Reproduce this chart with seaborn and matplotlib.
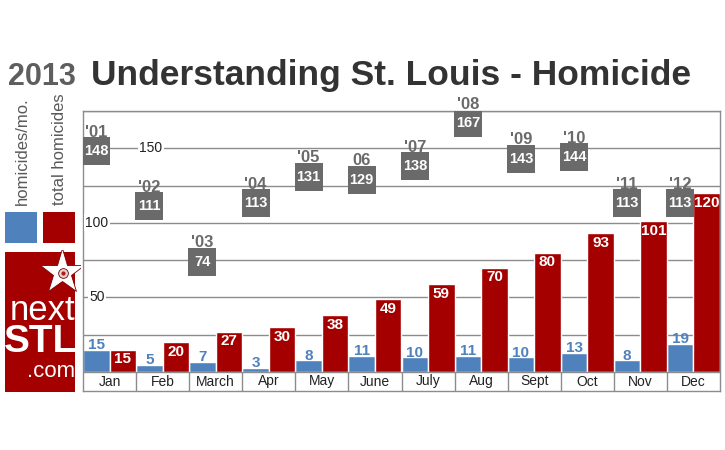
import numpy as np
import pandas as pd
import matplotlib
matplotlib.use("Agg")
from matplotlib import pyplot as plt
from matplotlib.patches import Rectangle
import seaborn as sns

months = ["Jan", "Feb", "March", "Apr", "May", "June", "July", "Aug", "Sept", "Oct", "Nov", "Dec"]
per_month = [15, 5, 7, 3, 8, 11, 10, 11, 10, 13, 8, 19]
running_total = [15, 20, 27, 30, 38, 49, 59, 70, 80, 93, 101, 120]
prev_years = ["'01", "'02", "'03", "'04", "'05", "06", "'07", "'08", "'09", "'10", "'11", "'12"]
prev_totals = [148, 111, 74, 113, 131, 129, 138, 167, 143, 144, 113, 113]
series_names = ["homicides/mo.", "total homicides"]
y_labels = [50, 100, 150]

BLUE = "#4F81BD"
RED = "#A50000"
GREY = "#6A6A6A"
LINE = "#8C8C8C"

df = pd.DataFrame({
    "month": months * 2,
    "count": per_month + running_total,
    "series": [series_names[0]] * len(months) + [series_names[1]] * len(months),
})

sns.set_style("white")
plt.rcParams["font.family"] = ["Liberation Sans", "DejaVu Sans"]

W, H = 725, 450
fig = plt.figure(figsize=(7.25, 4.5), dpi=100)

# main chart, label row lives inside the axes below zero
ax = fig.add_axes([83 / W, 1 - 391 / H, 637 / W, 280 / H])
sns.barplot(data=df, x="month", y="count", hue="series", order=months,
            palette=[BLUE, RED], width=1.0, saturation=1, legend=False, ax=ax)
ymin = -19 * 175 / 261
ax.set_ylim(ymin, 175)
ax.set_xlim(-0.5, len(months) - 0.5)
ax.set_yticks(range(25, 176, 25))
ax.set_yticklabels([])
ax.set_xticks([])
ax.set_xlabel("")
ax.set_ylabel("")
ax.yaxis.grid(True, color=LINE, lw=1)
ax.set_axisbelow(True)
for s in ax.spines.values():
    s.set_color(LINE)
    s.set_linewidth(1)
ax.axhline(0, color=LINE, lw=1)
ax.vlines(np.arange(len(months) - 1) + 0.5, ymin, 0, color=LINE, lw=1)
for i, m in enumerate(months):
    ax.text(i, ymin / 2, m, ha="center", va="center", fontsize=10, color="#222222")

# inline axis numbers
for xpos, v in zip([-0.24, -0.24, 0.78], y_labels):
    ax.text(xpos, v, str(v), ha="center", va="center", fontsize=10, color="#222222",
            bbox=dict(facecolor="white", edgecolor="none", pad=1))

ax.bar_label(ax.containers[0], padding=-2, color=BLUE, fontsize=11, fontweight="bold")
ax.bar_label(ax.containers[1], padding=-12, color="white", fontsize=11, fontweight="bold")

# previous years' totals
xs = np.arange(len(months)) - 0.25
ax.scatter(xs, prev_totals, marker="s", s=390, color=GREY, linewidths=0, zorder=4)
for x, v, yr in zip(xs, prev_totals, prev_years):
    ax.text(x, v, str(v), ha="center", va="center", fontsize=10.5, fontweight="bold",
            color="white", zorder=5)
    ax.annotate(yr, (x, v), xytext=(0, 13.5), textcoords="offset points", ha="center",
                va="center", fontsize=12, fontweight="bold", color=GREY, zorder=5)

# title
fig.text(8 / W, 1 - 85 / H, "2013", fontsize=22, fontweight="bold", color="#5E5E5E", va="baseline")
fig.text(91 / W, 1 - 85 / H, "Understanding St. Louis - Homicide", fontsize=25.5,
         fontweight="bold", color="#333333", va="baseline")

# legend column
fig.text(22 / W, 1 - 205 / H, series_names[0], rotation=90, ha="center", va="bottom",
         fontsize=12, color="#595959")
fig.text(60 / W, 1 - 205 / H, series_names[1], rotation=90, ha="center", va="bottom",
         fontsize=12, color="#595959")
fig.patches.append(Rectangle((5 / W, 1 - 243 / H), 32 / W, 31 / H, facecolor=BLUE,
                             edgecolor="none", transform=fig.transFigure))
fig.patches.append(Rectangle((43 / W, 1 - 243 / H), 32 / W, 31 / H, facecolor=RED,
                             edgecolor="none", transform=fig.transFigure))

# nextSTL logo
lg = fig.add_axes([0, 1 - 395 / H, 80 / W, 145 / H])
lg.set_xlim(0, 80)
lg.set_ylim(395, 250)
lg.axis("off")
lg.add_patch(Rectangle((5, 252), 70, 140, facecolor=RED, edgecolor="none"))
lg.plot(62, 272, marker="*", ms=34, mfc="white", mec="#7a0000", mew=0.6)
lg.plot(63, 273, marker="o", ms=7, mfc="#e8d0d0", mec="#7a0000", mew=0.6)
lg.plot(63, 273, marker="o", ms=3, mfc="#a02020", mec="none")
lg.text(75, 320, "next", ha="right", va="baseline", fontsize=25, color="white")
lg.text(77, 352, "STL", ha="right", va="baseline", fontsize=28, fontweight="bold",
        color="white", clip_on=False)
lg.text(75, 377, ".com", ha="right", va="baseline", fontsize=16, color="white")

fig.savefig("out.png", dpi=100)
